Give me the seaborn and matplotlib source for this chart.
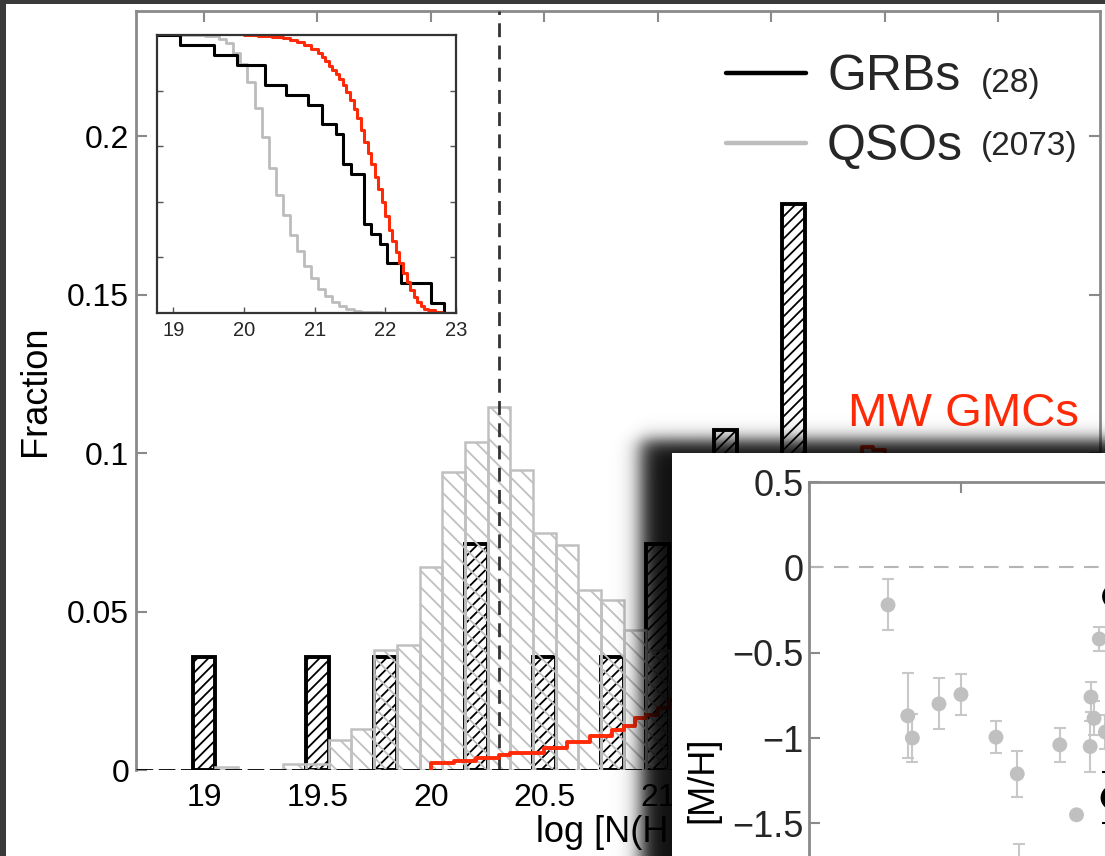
import numpy as np
import pandas as pd
import matplotlib
matplotlib.use("Agg")
import matplotlib.pyplot as plt
from matplotlib.lines import Line2D
from matplotlib.patches import Rectangle
import seaborn as sns

# ---------------- data ----------------
# QSO DLA column-density distribution (fraction per 0.1 dex bin)
qso_centers = [19.1, 19.4, 19.5, 19.6, 19.7, 19.8, 19.9, 20.0, 20.1, 20.2, 20.3, 20.4,
               20.5, 20.6, 20.7, 20.8, 20.9, 21.0, 21.1, 21.2, 21.3, 21.4, 21.5, 21.6,
               21.7, 21.8, 21.9, 22.0]
qso_frac = [0.0008, 0.002, 0.002, 0.0095, 0.0129, 0.038, 0.0395, 0.064, 0.0939, 0.1034,
            0.1146, 0.0946, 0.0748, 0.0711, 0.0569, 0.0537, 0.0442, 0.038, 0.028, 0.020,
            0.014, 0.010, 0.007, 0.004, 0.002, 0.001, 0.001, 0.001]
qso_total = 2073

# GRB host absorbers (counts per 0.1 dex bin)
grb_centers = [19.0, 19.5, 19.8, 20.2, 20.5, 20.8, 21.0, 21.3, 21.4, 21.6, 21.7, 21.8,
               21.9, 22.0, 22.2, 22.6, 22.8]
grb_counts = [1, 1, 1, 2, 1, 1, 2, 3, 2, 5, 1, 1, 1, 1, 2, 2, 1]
grb_total = 28

# Milky Way GMC distribution (step line)
gmc_x = [20.00, 20.00, 20.05, 20.10, 20.15, 20.20, 20.25, 20.30, 20.35, 20.40, 20.45,
         20.50, 20.55, 20.60, 20.65, 20.70, 20.75, 20.80, 20.85, 20.90, 20.95, 21.00,
         21.05, 21.10, 21.15, 21.20, 21.25, 21.30, 21.35, 21.40, 21.45, 21.50, 21.55,
         21.60, 21.65, 21.70, 21.75, 21.80, 21.85, 21.90, 21.95, 22.00, 22.05, 22.10,
         22.15, 22.20, 22.25, 22.30, 22.35, 22.40, 22.45, 22.50, 22.55, 22.60, 22.65,
         22.70, 22.75]
gmc_y = [0.0, 0.0021, 0.0021, 0.0028, 0.0028, 0.0039, 0.0039, 0.0047, 0.0053, 0.0053,
         0.0053, 0.0069, 0.0069, 0.0089, 0.0089, 0.0107, 0.0107, 0.0126, 0.0140, 0.0165,
         0.0172, 0.0196, 0.0221, 0.025, 0.029, 0.033, 0.037, 0.042, 0.047, 0.052, 0.057,
         0.062, 0.067, 0.073, 0.079, 0.085, 0.090, 0.094, 0.097, 0.102, 0.101, 0.094,
         0.086, 0.076, 0.065, 0.054, 0.044, 0.034, 0.026, 0.019, 0.013, 0.008, 0.005,
         0.003, 0.002, 0.001, 0.0]

# inset: fraction of sight lines above a given column density
inset_grb_x = [18.77, 19.09, 19.58, 19.90, 20.30, 20.60, 20.90, 21.11, 21.30, 21.40,
               21.52, 21.70, 21.80, 21.93, 22.02, 22.22, 22.64, 22.83, 23.0]
inset_grb_left = [28, 27, 26, 25, 23, 22, 21, 19, 18, 15, 14, 9, 8, 7, 5, 3, 1, 0, 0]
inset_gmc_x = [20.0, 20.2, 20.4, 20.55, 20.65, 20.75, 20.85, 20.95, 21.05, 21.1, 21.15,
               21.2, 21.25, 21.3, 21.35, 21.4, 21.45, 21.5, 21.55, 21.6, 21.65, 21.7,
               21.75, 21.8, 21.85, 21.9, 21.95, 22.0, 22.05, 22.1, 22.15, 22.2, 22.25,
               22.3, 22.35, 22.4, 22.45, 22.5, 22.55, 22.6, 22.7, 22.8, 22.9]
inset_gmc_y = [1.0, 0.997, 0.993, 0.988, 0.982, 0.974, 0.964, 0.95, 0.934, 0.92, 0.906,
               0.89, 0.875, 0.86, 0.84, 0.82, 0.795, 0.765, 0.735, 0.70, 0.66, 0.615,
               0.575, 0.535, 0.49, 0.445, 0.40, 0.35, 0.30, 0.26, 0.22, 0.18, 0.145,
               0.11, 0.082, 0.058, 0.04, 0.026, 0.016, 0.01, 0.004, 0.001, 0.0]

dla_threshold = 20.3

# overlaid metallicity panel
mh_x = [0.52, 0.65, 0.68, 0.855, 1.0, 1.23, 1.37, 1.38, 1.65, 1.76, 1.855, 1.875, 1.85, 1.91, 1.95]
mh_y = [-0.22, -0.87, -1.0, -0.80, -0.745, -0.995, -1.21, -1.78, -1.04, -1.45, -0.76,
        -0.885, -1.05, -0.42, -0.965]
mh_err = [0.15, 0.25, 0.14, 0.15, 0.12, 0.095, 0.135, 0.16, 0.10, 0.0, 0.09, 0.10, 0.15, 0.07, 0.10]
grb_mh_x = [2.01, 2.0]
grb_mh_y = [-0.17, -1.35]
grb_mh_err = [0.0, 0.15]

main_xticks = [19, 19.5, 20, 20.5, 21, 21.5, 22, 22.5]
main_xticklabels = ['19', '19.5', '20', '20.5', '21', '21.5', '22', '22.5']
main_yticks = [0, 0.05, 0.1, 0.15, 0.2]
main_yticklabels = ['0', '0.05', '0.1', '0.15', '0.2']
inset_xticks = [19, 20, 21, 22, 23]
mh_yticks = [0.5, 0, -0.5, -1, -1.5]
mh_yticklabels = ['0.5', '0', '\u22120.5', '\u22121', '\u22121.5']

# ---------------- style ----------------
sns.set_theme(style='white')
plt.rcParams['font.family'] = ['Liberation Sans', 'DejaVu Sans']
plt.rcParams['hatch.linewidth'] = 1.3
RED = '#ff2a08'
SPINE = '#8a8a8a'

W, H = 1105, 856
fig = plt.figure(figsize=(W / 100, H / 100), dpi=100, facecolor='#3a3a3a')


def fx(px):
    return px / W


def fy(py):
    return 1 - py / H


fig.add_artist(Rectangle((fx(6), 0), 1 - fx(6), fy(4), transform=fig.transFigure,
                         facecolor='white', edgecolor='none', zorder=-10))

# ---------------- main histogram ----------------
ax = fig.add_axes([fx(136), fy(770), 964 / W, 759 / H], zorder=1)
ax.set_facecolor('none')

grb_df = pd.DataFrame({'logN': grb_centers,
                       'frac': [c / grb_total for c in grb_counts]})
qso_df = pd.DataFrame({'logN': qso_centers, 'frac': qso_frac})

n0 = len(ax.patches)
sns.histplot(data=grb_df, x='logN', weights='frac',
             bins=list(np.round(np.arange(18.95, 22.9, 0.1), 2)), stat='count',
             element='bars', fill=True, ax=ax)
for p in ax.patches[n0:]:
    if p.get_height() <= 0:
        p.set_visible(False)
        continue
    p.set_facecolor('none')
    p.set_edgecolor('black')
    p.set_linewidth(2.8)
    p.set_hatch('///')
    p.set_zorder(2)

n1 = len(ax.patches)
sns.histplot(data=qso_df, x='logN', weights='frac',
             bins=list(np.round(np.arange(19.05, 22.1, 0.1), 2)), stat='count',
             element='bars', fill=True, ax=ax)
for p in ax.patches[n1:]:
    if p.get_height() <= 0:
        p.set_visible(False)
        continue
    p.set_facecolor('none')
    p.set_edgecolor('#c0c0c0')
    p.set_linewidth(1.8)
    p.set_hatch('\\\\')
    p.set_zorder(3)

ax.axvline(dla_threshold, color='#333333', lw=2.0, dashes=(5, 3), zorder=4)
ax.axhline(0, color='black', lw=2.0, dashes=(6, 2), zorder=4)
sns.lineplot(x=gmc_x, y=gmc_y, ax=ax, color=RED, lw=2.8, drawstyle='steps-post',
             estimator=None, sort=False, zorder=5)

ax.set_xlim(18.7, 22.95)
ax.set_ylim(0, 0.2395)
ax.set_xticks(main_xticks, main_xticklabels)
ax.set_yticks(main_yticks, main_yticklabels)
ax.tick_params(axis='both', direction='in', length=8, width=1.5, color=SPINE,
               labelsize=23, labelcolor='black')
ax.tick_params(axis='x', top=True, bottom=False, pad=9)
ax.tick_params(axis='y', left=True, right=True, pad=5)
for side in ['left', 'top', 'right']:
    ax.spines[side].set_color(SPINE)
    ax.spines[side].set_linewidth(2)
ax.spines['bottom'].set_visible(False)
ax.grid(False)

ax.set_ylabel('Fraction', fontsize=26, color='black')
ax.yaxis.set_label_coords(-0.0861, 0.5)
ax.set_xlabel('log [N(HI)]', fontsize=26, color='black', ha='left')
ax.xaxis.set_label_coords(0.415, -0.0593)

ax.text(21.84, 0.1087, 'MW GMCs', color=RED, fontsize=34, ha='left', va='baseline', zorder=6)

leg = ax.legend(handles=[Line2D([], [], color='black', lw=3.2),
                         Line2D([], [], color='#bdbdbd', lw=3.2)],
                labels=['GRBs', 'QSOs'], loc='upper left',
                bbox_to_anchor=((726 - 136) / 964, (770 - 54) / 759),
                frameon=False, fontsize=36, handlelength=1.6, handletextpad=0.42,
                labelspacing=0.48, borderpad=0, borderaxespad=0)
ax.text((981 - 136) / 964, (770 - 92) / 759, f'({grb_total})', transform=ax.transAxes,
        fontsize=24, ha='left', va='baseline')
ax.text((981 - 136) / 964, (770 - 155) / 759, f'({qso_total})', transform=ax.transAxes,
        fontsize=24, ha='left', va='baseline')

# ---------------- inset ----------------
axin = fig.add_axes([fx(157), fy(313), 299 / W, 278 / H], zorder=2)
axin.set_facecolor('white')
qf = np.array(qso_frac)
q_surv = 1 - np.cumsum(qf) / qf.sum()
q_x = np.concatenate([[18.77], np.array(qso_centers) + 0.05, [23.0]])
q_y = np.concatenate([[1.0], q_surv, [0.0]])
sns.lineplot(x=q_x, y=q_y, ax=axin, color='#bcbcbc', lw=2.0, drawstyle='steps-post',
             estimator=None, sort=False)
sns.lineplot(x=inset_grb_x, y=[n / grb_total for n in inset_grb_left], ax=axin, color='black',
             lw=2.2, drawstyle='steps-post', estimator=None, sort=False)
sns.lineplot(x=inset_gmc_x, y=inset_gmc_y, ax=axin, color=RED, lw=2.2,
             drawstyle='steps-post', estimator=None, sort=False)
axin.set_xlim(18.77, 23.0)
axin.set_ylim(0, 1)
axin.set_xticks(inset_xticks, [str(v) for v in inset_xticks])
axin.set_yticks([0.2, 0.4, 0.6, 0.8], [])
axin.tick_params(direction='in', length=4, width=1, color='#555555', labelsize=14.5, pad=6,
                 left=True, right=True, bottom=True, top=False)
for s in axin.spines.values():
    s.set_color('#333333')
    s.set_linewidth(1.6)
axin.set_xlabel('')
axin.set_ylabel('')
axin.grid(False)

# ---------------- drop shadow + overlaid panel ----------------
sh = fig.add_axes([0, 0, 1, 1], zorder=10)
yy, xx = np.mgrid[0:H, 0:W] + 0.5
sxp = 1 / (1 + np.exp(-(xx - 641) / 6.0))
syp = 1 / (1 + np.exp(-(yy - 440) / 5.0))
rgba = np.zeros((H, W, 4))
rgba[..., 3] = 0.94 * sxp * syp
sh.imshow(rgba, extent=(0, W, H, 0), aspect='auto', interpolation='nearest')
sh.set_xlim(0, W)
sh.set_ylim(H, 0)
sh.set_axis_off()

fig.add_artist(Rectangle((fx(672), 0), 1 - fx(672), fy(453), transform=fig.transFigure,
                         facecolor='white', edgecolor='none', zorder=11))

ax2 = fig.add_axes([fx(809), fy(994), 380 / W, 512 / H], zorder=12)
ax2.set_facecolor('none')
ax2.axhline(0, color='#b5b5b5', lw=1.5, dashes=(7, 5), zorder=1)
ax2.errorbar(mh_x, mh_y, yerr=mh_err, fmt='none', ecolor='#c8c8c8', elinewidth=1.5,
             capsize=4.5, capthick=1.5, zorder=2)
sns.scatterplot(x=mh_x, y=mh_y, ax=ax2, color='#c0c0c0', s=115, edgecolor='none', zorder=3)
ax2.errorbar(grb_mh_x, grb_mh_y, yerr=grb_mh_err, fmt='none', ecolor='black', elinewidth=1.5,
             capsize=8, capthick=1.5, zorder=4)
sns.scatterplot(x=grb_mh_x, y=grb_mh_y, ax=ax2, color='black', s=320, edgecolor='none', zorder=5)
ax2.set_xlim(0, 2.5)
ax2.set_ylim(-2.5, 0.5)
ax2.set_xticks([0, 1, 2], [])
ax2.set_yticks(mh_yticks, mh_yticklabels)
ax2.tick_params(direction='in', length=8, width=1.5, color=SPINE, labelsize=26, pad=4,
                top=True, bottom=True, left=True, right=True)
for s in ax2.spines.values():
    s.set_color(SPINE)
    s.set_linewidth(2)
ax2.set_ylabel('[M/H]', fontsize=26, color='black')
ax2.yaxis.set_label_coords(-0.234, 0.418)
ax2.set_xlabel('')
ax2.grid(False)

fig.savefig('out.png', dpi=100, facecolor=fig.get_facecolor())
